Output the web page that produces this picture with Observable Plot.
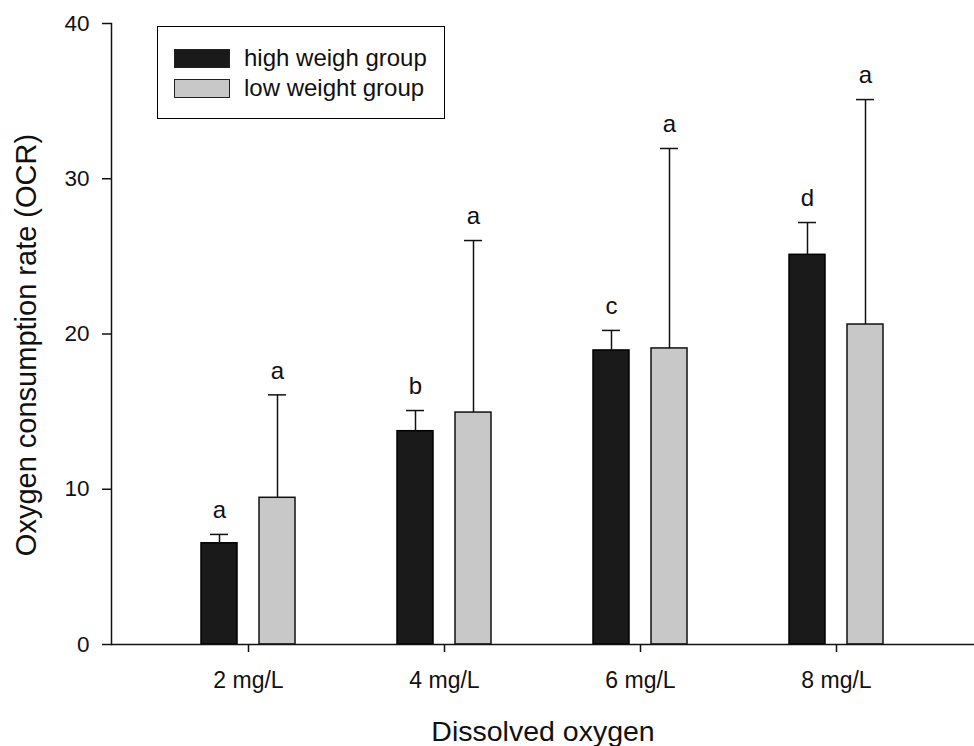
<!DOCTYPE html>
<html>
<head>
<meta charset="utf-8">
<script src="https://cdn.jsdelivr.net/npm/d3@7"></script>
<script src="https://cdn.jsdelivr.net/npm/@observablehq/plot@0.6"></script>
<style>
  body { margin: 0; background: #fff; }
  #wrap { position: relative; width: 974px; height: 746px; font-family: "Liberation Sans", Arial, sans-serif; }
  #legend { position: absolute; left: 157px; top: 26px; width: 288px; height: 93px; box-sizing: border-box;
            border: 1.5px solid #000; background: #fff; }
  .row { position: absolute; left: 16px; height: 20px; display: flex; align-items: center; }
  .sw { width: 56px; height: 19px; box-sizing: border-box; border: 1.5px solid #222; margin-right: 14px; }
  .lab { font-size: 24px; color: #111; white-space: nowrap; line-height: 20px; }
</style>
</head>
<body>
<div id="wrap"></div>
<script>
const doses = ["2 mg/L", "4 mg/L", "6 mg/L", "8 mg/L"];
const groups = ["high weigh group", "low weight group"];
const highMean = [6.52, 13.74, 18.94, 25.1];
const highSD = [0.57, 1.33, 1.29, 2.08];
const lowMean = [9.45, 14.94, 19.07, 20.61];
const lowSD = [6.63, 11.08, 12.88, 14.49];
const highLetters = ["a", "b", "c", "d"];
const lowLetters = ["a", "a", "a", "a"];
const yTicks = [0, 10, 20, 30, 40];
const xTitle = "Dissolved oxygen";
const yTitle = "Oxygen consumption rate (OCR)";
const groupColors = ["#1a1a1a", "#c8c8c8"];

const high = doses.map((d, i) => ({dose: d, mean: highMean[i], top: highMean[i] + highSD[i], letter: highLetters[i]}));
const low = doses.map((d, i) => ({dose: d, mean: lowMean[i], top: lowMean[i] + lowSD[i], letter: lowLetters[i]}));

const font = "'Liberation Sans', Arial, sans-serif";

const chart = Plot.plot({
  width: 974,
  height: 746,
  marginLeft: 111,
  marginRight: 0,
  marginTop: 23,
  marginBottom: 102,
  style: {fontFamily: font, fontSize: "23px", color: "#111", background: "#fff"},
  x: {type: "band", domain: doses, paddingInner: 0.52, paddingOuter: 0.4615, label: null},
  y: {domain: [0, 40], label: null},
  marks: [
    Plot.barY(high, {x: "dose", y: "mean", fill: groupColors[0], stroke: "#000", strokeWidth: 1.5, insetRight: 58}),
    Plot.barY(low, {x: "dose", y: "mean", fill: groupColors[1], stroke: "#111", strokeWidth: 1.5, insetLeft: 58}),
    Plot.ruleX(high, {x: "dose", y1: "mean", y2: "top", dx: -29, stroke: "#111", strokeWidth: 1.5}),
    Plot.ruleX(low, {x: "dose", y1: "mean", y2: "top", dx: 29, stroke: "#111", strokeWidth: 1.5}),
    Plot.tickY(high, {x: "dose", y: "top", insetLeft: 9, insetRight: 67, stroke: "#111", strokeWidth: 1.5}),
    Plot.tickY(low, {x: "dose", y: "top", insetLeft: 67, insetRight: 9, stroke: "#111", strokeWidth: 1.5}),
    Plot.text(high, {x: "dose", y: "top", text: "letter", dx: -29, dy: -24, lineAnchor: "middle", fontSize: 24, fill: "#111"}),
    Plot.text(low, {x: "dose", y: "top", text: "letter", dx: 29, dy: -24, lineAnchor: "middle", fontSize: 24, fill: "#111"}),
    Plot.ruleY([0], {stroke: "#111", strokeWidth: 1.5}),
    Plot.frame({anchor: "left", stroke: "#111", strokeWidth: 1.5}),
    Plot.axisY({ticks: yTicks, tickSize: 9, tickPadding: 13, fontSize: 22.5, label: null, strokeWidth: 1.5}),
    Plot.axisX({tickSize: 8, tickPadding: 19, fontSize: 23, label: null, strokeWidth: 1.5}),
    Plot.text([xTitle], {text: d => d, frameAnchor: "bottom", dy: 87, lineAnchor: "middle", textAnchor: "middle", fontSize: 28.5, fill: "#111"}),
    Plot.text([yTitle], {text: d => d, frameAnchor: "left", rotate: -90, dx: -85, dy: 11, lineAnchor: "middle", textAnchor: "middle", fontSize: 29, fill: "#111"})
  ]
});

const wrap = document.getElementById("wrap");
wrap.appendChild(chart);

const legend = document.createElement("div");
legend.id = "legend";
groups.forEach((g, i) => {
  const row = document.createElement("div");
  row.className = "row";
  row.style.top = (21 + i * 30) + "px";
  const sw = document.createElement("div");
  sw.className = "sw";
  sw.style.background = groupColors[i];
  const lab = document.createElement("span");
  lab.className = "lab";
  lab.textContent = g;
  row.appendChild(sw);
  row.appendChild(lab);
  legend.appendChild(row);
});
wrap.appendChild(legend);
</script>
</body>
</html>
